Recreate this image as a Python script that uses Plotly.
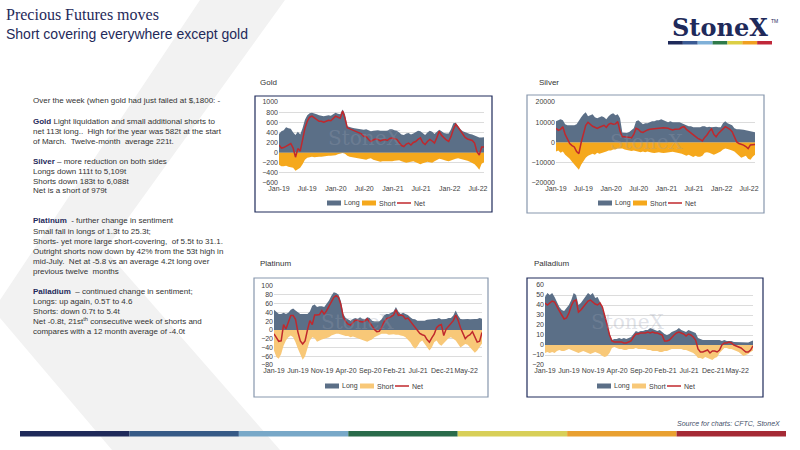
import pandas as pd
import plotly.graph_objects as go

# weekly CFTC positioning, sampled about twice a month (tonnes)
weeks = pd.date_range("2019-01-01", "2022-08-09", periods=88)

gold_long = [370, 420, 440, 500, 480, 470, 400, 350, 410, 360,
             480, 650, 740, 780, 790, 780, 760, 740, 730, 720,
             730, 740, 730, 760, 790, 770, 760, 850, 760, 520,
             500, 490, 480, 470, 460, 450, 450, 460, 440, 420,
             430, 440, 440, 430, 430, 440, 430, 460, 460, 440,
             430, 400, 360, 350, 380, 390, 360, 380, 400, 430,
             420, 380, 350, 400, 430, 410, 370, 410, 450, 420,
             390, 380, 380, 460, 580, 590, 520, 460, 420, 400,
             380, 370, 360, 340, 320, 300, 300, 303]
gold_short = [-240, -270, -270, -260, -280, -290, -300, -360, -330, -300,
              -230, -140, -100, -90, -80, -90, -80, -80, -80, -70,
              -70, -60, -60, -60, -50, -30, -10, -5, -20, -60,
              -80, -90, -100, -110, -110, -120, -130, -140, -120, -110,
              -140, -150, -170, -180, -170, -170, -180, -180, -170, -160,
              -160, -150, -170, -190, -200, -190, -180, -170, -190, -210,
              -230, -210, -190, -180, -190, -200, -170, -150, -120, -130,
              -150, -160, -170, -150, -130, -120, -110, -120, -130, -140,
              -160, -180, -200, -230, -280, -340, -220, -190]
gold_net = [150, 90, 100, 130, 160, 180, 90, -90, 80, 30,
            250, 480, 620, 700, 720, 690, 660, 620, 620, 600,
            620, 640, 630, 680, 720, 700, 680, 820, 680, 490,
            470, 450, 420, 400, 380, 370, 320, 320, 260, 220,
            250, 270, 260, 230, 250, 260, 240, 280, 290, 270,
            260, 200, 140, 120, 170, 190, 150, 200, 220, 260,
            290, 200, 160, 220, 260, 230, 190, 300, 420, 340,
            290, 250, 220, 320, 460, 560, 500, 430, 360, 300,
            270, 250, 240, 190, 20, -50, 110, 113]

silver_long = [10500, 11000, 11500, 11000, 9000, 8500, 8500, 8300, 8500, 9000,
               11000, 12500, 14000, 15000, 13000, 13500, 14000, 12500, 12000, 12500,
               13000, 12500, 11500, 13000, 14000, 14500, 13500, 14000, 12000, 5000,
               5000, 4800, 5200, 6000, 7000, 10500, 11000, 10000, 9000, 9500,
               9500, 10000, 10500, 10500, 11000, 11000, 11500, 11000, 10500, 10000,
               10500, 10000, 10000, 10000, 10000, 9500, 9000, 8500, 8000, 8000,
               7500, 7500, 7500, 7500, 8000, 8000, 7500, 7800, 7500, 7800,
               7800, 7500, 7500, 9500, 10500, 9500, 9000, 8500, 7000, 6500,
               6500, 6500, 6300, 6000, 5800, 5500, 5200, 5109]
silver_short = [-4500, -4000, -5000, -4500, -6000, -7000, -8000, -9500, -11000, -12500,
                -13500, -11000, -9000, -7500, -6500, -6000, -5500, -6000, -5000, -5500,
                -5000, -4800, -4500, -4000, -4000, -3500, -3500, -3000, -3000, -3000,
                -3500, -3800, -4000, -4200, -4000, -4200, -4500, -4800, -4500, -4800,
                -4500, -4600, -5000, -5200, -5000, -4800, -5000, -5200, -5000, -4800,
                -4500, -4600, -4800, -5000, -5200, -5500, -6000, -6500, -6000, -6800,
                -7200, -6500, -7000, -7000, -6500, -5000, -4800, -5000, -5500, -6000,
                -5500, -5000, -4500, -3500, -3000, -3200, -3500, -4000, -4500, -5500,
                -6500, -7500, -7000, -6500, -8000, -8500, -7000, -6088]
silver_net = [7000, 6000, 6500, 7800, 4000, 1500, -500, -1500, -2200, -4500,
              -5500, 0, 4000, 8500, 10000, 9000, 8000, 7500, 7000, 7500,
              8000, 8500, 7500, 9000, 9500, 9000, 9200, 10300, 5500, 2800,
              2800, 2700, 2500, 2300, 4000, 7000, 6500, 5300, 5000, 5800,
              6200, 6500, 6700, 6700, 7000, 7000, 7200, 7300, 7300, 7000,
              6500, 6200, 6500, 6700, 6700, 7500, 7800, 6500, 5500, 4800,
              3700, 3000, 2000, 1500, 800, 2500, 3700, 5500, 6700, 4000,
              2800, 4500, 5500, 7000, 7800, 7200, 6500, 5300, 3000, 300,
              -500, -800, -1300, -2000, -3000, -1200, -1000, -979]

platinum_long = [46, 40, 36, 36, 39, 36, 39, 46, 49, 44,
                 39, 36, 36, 36, 36, 42, 55, 58, 52, 54,
                 54, 52, 59, 67, 78, 86, 84, 80, 65, 36,
                 27, 24, 21, 25, 27, 25, 29, 25, 24, 29,
                 27, 21, 19, 19, 19, 24, 33, 36, 36, 39,
                 42, 52, 42, 36, 39, 36, 34, 29, 25, 24,
                 21, 21, 21, 21, 23, 24, 24, 25, 25, 27,
                 24, 24, 25, 27, 27, 33, 44, 33, 25, 24,
                 25, 25, 24, 25, 25, 25, 27, 25.3]
platinum_short = [-47, -62, -66, -55, -36, -24, -17, -13, -17, -28,
                  -43, -58, -68, -60, -40, -24, -17, -19, -27, -24,
                  -22, -20, -19, -17, -13, -11, -9, -9, -11, -13,
                  -14, -14, -17, -15, -17, -19, -20, -22, -24, -27,
                  -24, -22, -17, -14, -11, -9, -9, -9, -11, -10,
                  -10, -11, -11, -13, -14, -17, -22, -28, -37, -43,
                  -37, -28, -24, -32, -40, -47, -40, -28, -24, -32,
                  -36, -30, -24, -19, -17, -20, -24, -32, -40, -36,
                  -32, -34, -40, -47, -52, -47, -40, -31.1]
platinum_net = [-9, -18, -26, -25, 12, 2, 17, 33, 33, 24,
                -5, -25, -32, -25, 0, 21, 12, 34, 34, 35,
                44, 36, 44, 55, 66, 74, 78, 74, 57, 29,
                19, 13, 11, 17, 22, 22, 19, 18, 20, 25,
                17, 8, 1, -4, -3, 5, 18, 25, 27, 30,
                34, 46, 33, 34, 32, 25, 27, 20, 12, 6,
                0, -8, -11, -13, -22, -28, -18, -10, 5, 10,
                12, -13, 2, 8, 16, 21, 34, 22, 5, -8,
                -20, -14, -11, -4, -18, -28, -26, -5.8]

palladium_long = [48, 52, 50, 52, 48, 43, 38, 35, 34, 37,
                  40, 45, 52, 50, 40, 42, 45, 48, 52, 50,
                  52, 47, 48, 43, 37, 30, 22, 11, 5, 6,
                  6, 7, 6, 7, 6, 7, 8, 11, 14, 13,
                  14, 14, 15, 15, 17, 16, 15, 14, 15, 13,
                  11, 10, 11, 13, 14, 15, 17, 15, 14, 13,
                  15, 14, 13, 12, 7, 6, 5, 5, 5, 5,
                  5, 5, 5, 5, 4, 5, 4, 4, 4, 3,
                  3, 3, 2.5, 3, 3, 2.5, 3.5, 4.6]
palladium_short = [-8, -7, -8, -7, -8, -6, -5, -6, -6, -5,
                   -4, -5, -6, -7, -8, -7, -6, -7, -8, -9,
                   -8, -7, -8, -9, -11, -12, -11, -8, -3, -2,
                   -3, -4, -4, -5, -5, -4, -4, -4, -3, -4,
                   -4, -4, -4, -5, -5, -6, -6, -6, -7, -7,
                   -6, -6, -5, -4, -4, -4, -4, -4, -5, -5,
                   -6, -7, -8, -10, -13, -13, -14, -12, -13, -14,
                   -15, -13, -12, -8, -5, -3, -3, -4, -4, -5,
                   -6, -7, -9, -11, -10, -9, -7, -5.4]
palladium_net = [42, 40, 42, 44, 43, 38, 34, 30, 26, 27,
                 32, 39, 44, 45, 33, 35, 38, 41, 44, 45,
                 43, 41, 40, 42, 38, 30, 20, 10, 4, 3,
                 3, 3, 3, 2, 2, 3, 4, 8, 11, 11,
                 12, 12, 12, 13, 12, 13, 12, 12, 11, 10,
                 4, 4, 5, 8, 10, 12, 13, 12, 11, 9,
                 11, 10, 8, 5, -4, -7, -7, -6, -5, -8,
                 -6, -6, -7, -5, 0, 2, 2, 3, 2, 0,
                 -1, -2, -3, -5, -7, -7, -5, -0.8]

series_names = ["Long", "Short", "Net"]

body_text = [
    "Over the week (when gold had just failed at $,1800: -",
    "<b>Gold</b> Light liquidation and small additional shorts to",
    "net 113t long..  High for the year was 582t at the start",
    "of March.  Twelve-month  average 221t.",
    "<b>Silver</b> – more reduction on both sides",
    "Longs down 111t to 5,109t",
    "Shorts down 183t to 6,088t",
    "Net is a short of 979t",
    "<b>Platinum</b>  - further change in sentiment",
    "Small fall in longs of 1.3t to 25.3t;",
    "Shorts- yet more large short-covering,  of 5.5t to 31.1.",
    "Outright shorts now down by 42% from the 53t high in",
    "mid-July.  Net at -5.8 vs an average 4.2t long over",
    "previous twelve  months",
    "<b>Palladium</b>  – continued change in sentiment;",
    "Longs: up again, 0.5T to 4.6",
    "Shorts: down 0.7t to 5.4t",
    "Net -0.8t, 21st<sup>th</sup> consecutive week of shorts and",
    "compares with a 12 month average of -4.0t",
]
body_y = [100, 121, 131, 141, 161, 171, 181, 191, 221, 231, 241, 251, 261, 271,
          291, 301, 311, 321, 331]

W, H = 800, 450
NAVY = "#1f2a5a"
LONG = "#5b6f87"
NET = "#c0282d"
SANS = "Liberation Sans, Arial, sans-serif"


def px(x):
    return x / W


def py(y):
    return 1 - y / H


charts = [
    dict(title="Gold", long=gold_long, short=gold_short, net=gold_net,
         short_color="#f5a81c", x=(279, 484), y=(102, 183), yr=[-600, 1000], yd=200,
         xd="M6", box=(255, 96, 492, 212), box_color=NAVY, title_xy=(258, 82),
         legend_xy=(327, 203), mark_xy=(364, 138)),
    dict(title="Silver", long=silver_long, short=silver_short, net=silver_net,
         short_color="#f5a81c", x=(556, 755), y=(102, 183), yr=[-20000, 20000], yd=10000,
         xd="M6", box=(527, 95, 764, 213), box_color="#8797ad", title_xy=(537, 83),
         legend_xy=(598, 203), mark_xy=(646, 142)),
    dict(title="Platinum", long=platinum_long, short=platinum_short, net=platinum_net,
         short_color="#f8c878", x=(274, 482), y=(286, 365), yr=[-80, 100], yd=20,
         xd="M5", box=(254, 278, 488, 397), box_color="#8797ad", title_xy=(258, 263),
         legend_xy=(325, 386), mark_xy=(357, 322)),
    dict(title="Palladium", long=palladium_long, short=palladium_short, net=palladium_net,
         short_color="#f8c878", x=(545, 753), y=(285, 365), yr=[-20, 60], yd=10,
         xd="M5", box=(527, 278, 763, 397), box_color=NAVY, title_xy=(532, 263),
         legend_xy=(597, 386), mark_xy=(627, 322)),
]

fig = go.Figure()
shapes = []
annotations = []

# light grey chevron in the slide background
shapes.append(dict(
    type="path", xref="paper", yref="paper", layer="below",
    path="M {} {} L {} {} L {} {} L {} {} L {} {} L {} {} L {} {} Z".format(
        px(200), py(0), px(285), py(0), px(105), py(250), px(280), py(450),
        px(112), py(450), px(0), py(318), px(0), py(300)),
    fillcolor="#f2f2f2", line=dict(width=0)))

for i, c in enumerate(charts, start=1):
    sfx = "" if i == 1 else str(i)
    xa, ya = "x" + sfx, "y" + sfx
    fig.add_trace(go.Scatter(x=weeks, y=c["long"], name="Long", mode="lines",
                             fill="tozeroy", fillcolor=LONG, line=dict(width=0, color=LONG),
                             xaxis=xa, yaxis=ya, showlegend=False))
    fig.add_trace(go.Scatter(x=weeks, y=c["short"], name="Short", mode="lines",
                             fill="tozeroy", fillcolor=c["short_color"],
                             line=dict(width=0, color=c["short_color"]),
                             xaxis=xa, yaxis=ya, showlegend=False))
    fig.add_trace(go.Scatter(x=weeks, y=c["net"], name="Net", mode="lines",
                             line=dict(width=1.5, color=NET),
                             xaxis=xa, yaxis=ya, showlegend=False))
    fig.update_layout(**{
        "xaxis" + sfx: dict(domain=[px(c["x"][0]), px(c["x"][1])], anchor=ya,
                            type="date", range=[weeks[0], weeks[-1]],
                            tickformat="%b-%y", dtick=c["xd"], tick0="2019-01-01",
                            tickangle=0, automargin=False,
                            showgrid=False, zeroline=False, showline=False, ticks="",
                            tickfont=dict(size=7, color="#404040", family=SANS)),
        "yaxis" + sfx: dict(domain=[py(c["y"][1]), py(c["y"][0])], anchor=xa,
                            range=c["yr"], dtick=c["yd"], tickformat="d", automargin=False,
                            showgrid=True, gridcolor="#dcdcdc", gridwidth=1,
                            zeroline=False, showline=False, ticks="",
                            tickfont=dict(size=7, color="#404040", family=SANS)),
    })
    x0, y0, x1, y1 = c["box"]
    shapes.append(dict(type="rect", xref="paper", yref="paper",
                       x0=px(x0), x1=px(x1), y0=py(y1), y1=py(y0),
                       line=dict(color=c["box_color"], width=1.2)))
    annotations.append(dict(text=c["title"], x=px(c["title_xy"][0]), y=py(c["title_xy"][1]),
                            xref="paper", yref="paper", xanchor="left", yanchor="middle",
                            showarrow=False, font=dict(size=8, color="#333333", family=SANS)))
    annotations.append(dict(text="StoneX", x=px(c["mark_xy"][0]), y=py(c["mark_xy"][1]),
                            xref="paper", yref="paper", xanchor="center", yanchor="middle",
                            showarrow=False,
                            font=dict(size=20, color="rgba(150,158,175,0.3)",
                                      family="DejaVu Serif")))

    # compact legend: swatch + label for Long, Short and Net
    lx, ly = c["legend_xy"]
    swatch_colors = [LONG, c["short_color"], NET]
    for k, (nm, col) in enumerate(zip(series_names, swatch_colors)):
        sx = lx + 35 * k
        if nm == "Net":
            shapes.append(dict(type="line", xref="paper", yref="paper",
                               x0=px(sx), x1=px(sx + 14), y0=py(ly), y1=py(ly),
                               line=dict(color=col, width=1.5)))
        else:
            shapes.append(dict(type="rect", xref="paper", yref="paper", line=dict(width=0),
                               x0=px(sx), x1=px(sx + 14), y0=py(ly + 2.5), y1=py(ly - 2.5),
                               fillcolor=col))
        annotations.append(dict(text=nm, x=px(sx + 15), y=py(ly), xref="paper", yref="paper",
                                xanchor="left", yanchor="middle", showarrow=False,
                                font=dict(size=7, color="#404040", family=SANS)))

# title
annotations.append(dict(text="Precious Futures moves", x=px(4), y=py(15), xref="paper",
                        yref="paper", xanchor="left", yanchor="middle", showarrow=False,
                        font=dict(size=16, color=NAVY, family="Liberation Serif")))
annotations.append(dict(text="Short covering everywhere except gold", x=px(4), y=py(34),
                        xref="paper", yref="paper", xanchor="left", yanchor="middle",
                        showarrow=False, font=dict(size=14, color=NAVY, family=SANS)))

# commentary
for line, yy in zip(body_text, body_y):
    line = line.replace("<b>", "<span style='color:%s'><b>" % NAVY).replace("</b>", "</b></span>")
    annotations.append(dict(text=line, x=px(31), y=py(yy), xref="paper", yref="paper",
                            xanchor="left", yanchor="middle", showarrow=False,
                            font=dict(size=8, color="#333333", family=SANS)))

# logo
annotations.append(dict(text="<b>StoneX</b>", x=px(720), y=py(28), xref="paper", yref="paper",
                        xanchor="center", yanchor="middle", showarrow=False,
                        font=dict(size=24, color=NAVY, family="DejaVu Serif")))
annotations.append(dict(text="TM", x=px(774), y=py(21), xref="paper", yref="paper",
                        xanchor="center", yanchor="middle", showarrow=False,
                        font=dict(size=5, color=NAVY, family=SANS)))
stripe = ["#1f2a5a", "#3b5b94", "#7fb0d8", "#2e7a4a", "#dccf45", "#f0a020", "#c0283a"]
seg = (772 - 668) / len(stripe)
for k, col in enumerate(stripe):
    shapes.append(dict(type="rect", xref="paper", yref="paper", line=dict(width=0),
                       x0=px(668 + k * seg), x1=px(668 + (k + 1) * seg),
                       y0=py(44.5), y1=py(41), fillcolor=col))

# footer
annotations.append(dict(text="<i>Source for charts: CFTC, StoneX</i>", x=px(782), y=py(423),
                        xref="paper", yref="paper", xanchor="right", yanchor="middle",
                        showarrow=False, font=dict(size=7, color="#44506a", family=SANS)))
footer = ["#1f2a5a", "#365a86", "#78a8c8", "#2a6b4a", "#d8cf58", "#e9a030", "#a52a35"]
seg = (786 - 20) / len(footer)
for k, col in enumerate(footer):
    shapes.append(dict(type="rect", xref="paper", yref="paper", line=dict(width=0),
                       x0=px(20 + k * seg), x1=px(20 + (k + 1) * seg),
                       y0=py(436.5), y1=py(431), fillcolor=col))

fig.update_layout(
    width=W, height=H, autosize=False, showlegend=False,
    margin=dict(l=0, r=0, t=0, b=0, pad=0, autoexpand=False),
    paper_bgcolor="white", plot_bgcolor="rgba(0,0,0,0)",
    shapes=shapes, annotations=annotations,
    font=dict(family=SANS),
)

# the page's default 8px body margin would push the 800x450 slide off the window
fig.write_html("out.html", config={"displayModeBar": False},
               post_script="document.body.style.margin='0px';")
